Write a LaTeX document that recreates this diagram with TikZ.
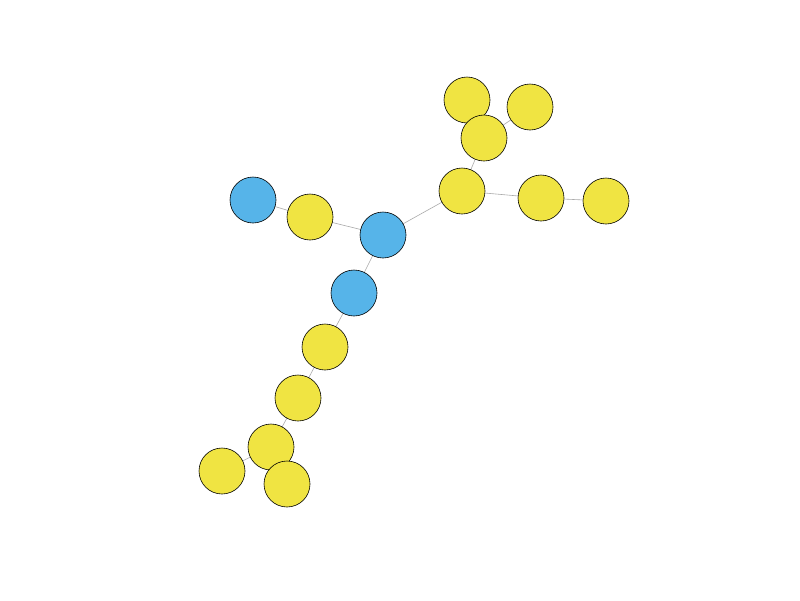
\documentclass[tikz,border=0pt]{standalone}
\definecolor{ny}{RGB}{240,228,66}
\definecolor{nb}{RGB}{86,180,233}
\definecolor{eg}{RGB}{170,170,170}
\tikzset{
  vy/.style={circle,draw=black,fill=ny,minimum size=46pt,inner sep=0pt,line width=0.6pt},
  vb/.style={circle,draw=black,fill=nb,minimum size=46pt,inner sep=0pt,line width=0.6pt},
  ed/.style={draw=eg,line width=0.6pt}
}
\begin{document}
\begin{tikzpicture}[x=1pt,y=-1pt]
\useasboundingbox[fill=white] (0,0) rectangle (800,600);
\coordinate (cB1) at (253,200);
\coordinate (cY1) at (310,217);
\coordinate (cB2) at (383,235);
\coordinate (cY2) at (462,191);
\coordinate (cY3) at (484,138);
\coordinate (cY4) at (467,100);
\coordinate (cY5) at (530,107);
\coordinate (cY6) at (541,198);
\coordinate (cY7) at (606,201);
\coordinate (cB3) at (354,293);
\coordinate (cY8) at (325,347);
\coordinate (cY9) at (298,398);
\coordinate (cY10) at (271,447);
\coordinate (cY11) at (222,471);
\coordinate (cY12) at (287,484);
\begin{scope}[ed]
\draw (cB1) -- (cY1);
\draw (cY1) -- (cB2);
\draw (cB2) -- (cY2);
\draw (cY2) -- (cY3);
\draw (cY3) -- (cY4);
\draw (cY3) -- (cY5);
\draw (cY2) -- (cY6);
\draw (cY6) -- (cY7);
\draw (cB2) -- (cB3);
\draw (cB3) -- (cY8);
\draw (cY8) -- (cY9);
\draw (cY9) -- (cY10);
\draw (cY10) -- (cY11);
\draw (cY10) -- (cY12);
\end{scope}
\node[vb] (B1) at (cB1) {};
\node[vy] (Y1) at (cY1) {};
\node[vb] (B2) at (cB2) {};
\node[vy] (Y2) at (cY2) {};
\node[vy] (Y4) at (cY4) {};
\node[vy] (Y3) at (cY3) {};
\node[vy] (Y5) at (cY5) {};
\node[vy] (Y6) at (cY6) {};
\node[vy] (Y7) at (cY7) {};
\node[vb] (B3) at (cB3) {};
\node[vy] (Y8) at (cY8) {};
\node[vy] (Y9) at (cY9) {};
\node[vy] (Y10) at (cY10) {};
\node[vy] (Y11) at (cY11) {};
\node[vy] (Y12) at (cY12) {};
\end{tikzpicture}
\end{document}
